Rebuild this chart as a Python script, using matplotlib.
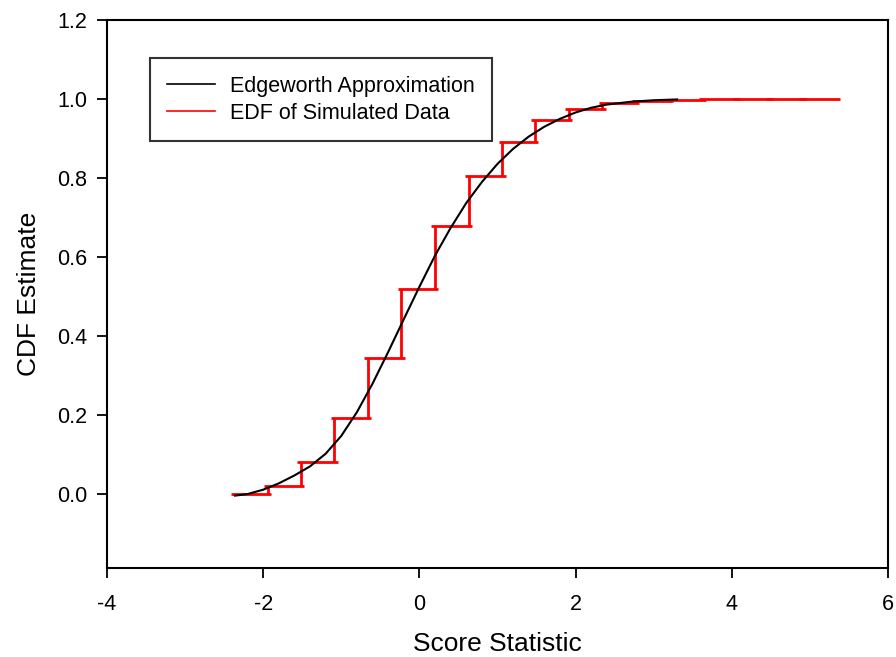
import matplotlib
matplotlib.use('Agg')
import matplotlib.pyplot as plt
from matplotlib.lines import Line2D

# --- Edgeworth approximation ---
edge_x = [-2.36, -2.2, -2.0, -1.8, -1.6, -1.4, -1.2, -1.0, -0.8, -0.6, -0.4, -0.2,
          0.0, 0.2, 0.4, 0.6, 0.8, 1.0, 1.2, 1.4, 1.6, 1.8, 2.0, 2.2, 2.4, 2.7, 3.0, 3.3]
edge_y = [-0.003, 0.001, 0.012, 0.028, 0.048, 0.071, 0.103, 0.148, 0.208, 0.280, 0.360, 0.443,
          0.525, 0.604, 0.674, 0.737, 0.790, 0.836, 0.874, 0.905, 0.930, 0.950, 0.966, 0.978,
          0.986, 0.993, 0.997, 0.999]

# --- EDF of simulated data: bin edges and level on each bin ---
edf_x = [-2.37, -1.94, -1.52, -1.09, -0.66, -0.23, 0.20, 0.63, 1.06, 1.48,
         1.91, 2.34, 2.77, 3.20, 3.63, 4.06, 4.48, 4.91, 5.34]
edf_y = [0.002, 0.022, 0.082, 0.194, 0.346, 0.520, 0.679, 0.806, 0.892, 0.946,
         0.974, 0.989, 0.995, 0.998, 0.999, 1.0, 1.0, 1.0]

x_ticks = [-4, -2, 0, 2, 4, 6]
y_ticks = [0.0, 0.2, 0.4, 0.6, 0.8, 1.0, 1.2]

plt.rcParams['font.family'] = ['Liberation Sans', 'DejaVu Sans']
fs = 15.5

fig = plt.figure(figsize=(8.96, 6.57), dpi=100)
ax = fig.add_axes([0.1194, 0.1355, 0.8716, 0.8341])

# --- EDF drawn as short horizontal pieces plus risers ---
red = '#ff0000'
ext = 0.045
for i, lev in enumerate(edf_y):
    ax.hlines(lev, edf_x[i] - ext, edf_x[i + 1] + ext, color=red, lw=2.0, zorder=2)
    if i > 0:
        ax.vlines(edf_x[i], edf_y[i - 1], lev, color=red, lw=2.0, zorder=2)

ax.plot(edge_x, edge_y, color='black', lw=1.5, zorder=3)

ax.set_xlim(-4, 6)
ax.set_ylim(-0.186, 1.2)
ax.set_xticks(x_ticks)
ax.set_yticks(y_ticks)
ax.set_xticklabels([str(v) for v in x_ticks])
ax.set_yticklabels([f"{v:.1f}" for v in y_ticks])
ax.tick_params(direction='out', length=7, width=1.3, labelsize=fs, pad=7)
ax.tick_params(axis='x', pad=12)
for sp in ax.spines.values():
    sp.set_linewidth(1.5)

ax.set_xlabel('Score Statistic', fontsize=19, labelpad=12)
ax.set_ylabel('CDF Estimate', fontsize=19, labelpad=12)

handles = [Line2D([], [], color='black', lw=1.2),
           Line2D([], [], color=red, lw=1.2)]
leg = ax.legend(handles, ['Edgeworth Approximation', 'EDF of Simulated Data'],
                loc='upper left', bbox_to_anchor=(0.055, 0.93), fontsize=fs,
                frameon=True, fancybox=False, handlelength=2.2, handletextpad=0.7,
                borderpad=0.8, labelspacing=0.28, borderaxespad=0)
leg.get_frame().set_edgecolor('black')
leg.get_frame().set_linewidth(1.5)

plt.savefig('out.png', dpi=100)
plt.close(fig)
